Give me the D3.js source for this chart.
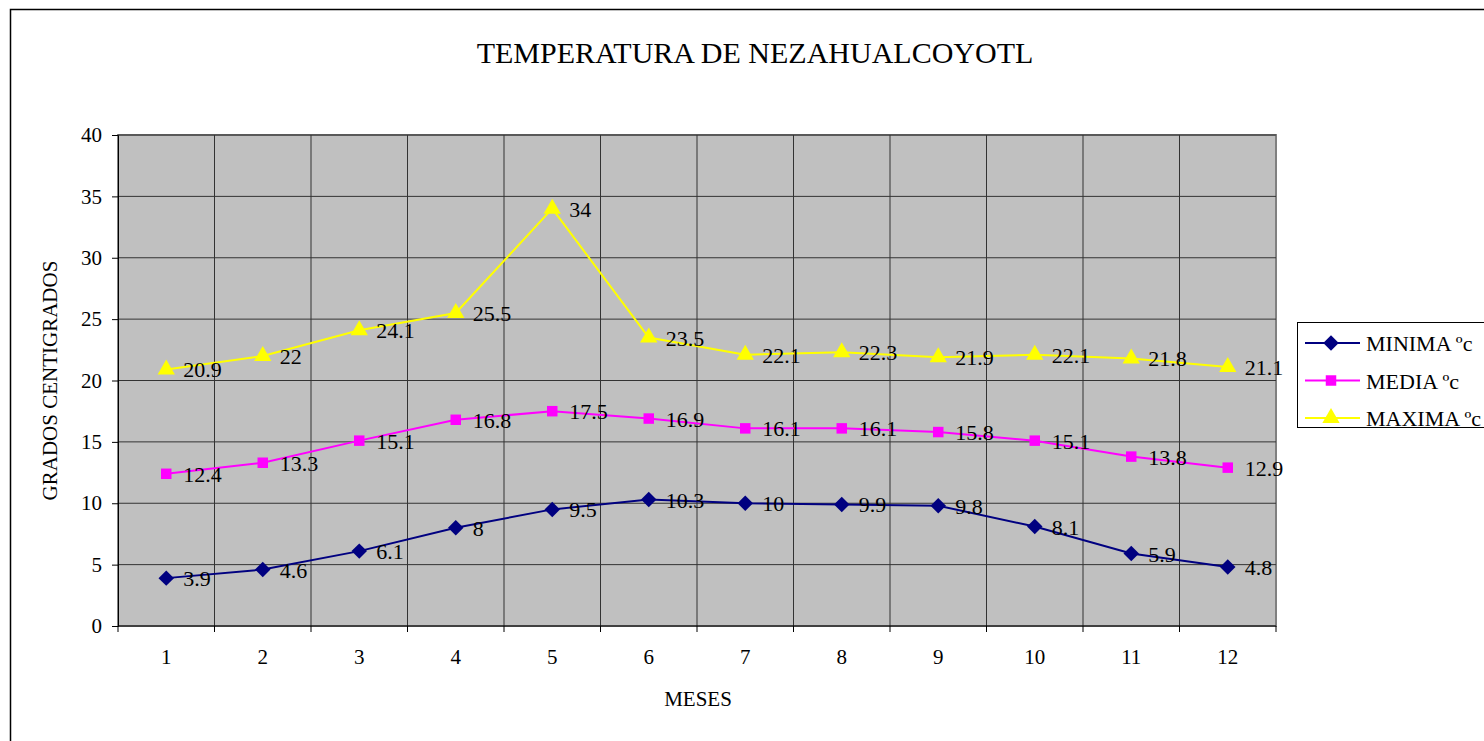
<!DOCTYPE html>
<html>
<head>
<meta charset="utf-8">
<script src="https://cdn.jsdelivr.net/npm/d3@7"></script>
<style>
  body { margin: 0; background: #fff; }
  text { font-family: "Liberation Serif", "Times New Roman", serif; fill: #000; }
</style>
</head>
<body>
<div id="chart"></div>
<script>
const months = [1, 2, 3, 4, 5, 6, 7, 8, 9, 10, 11, 12]
const minima = [3.9, 4.6, 6.1, 8, 9.5, 10.3, 10, 9.9, 9.8, 8.1, 5.9, 4.8]
const media = [12.4, 13.3, 15.1, 16.8, 17.5, 16.9, 16.1, 16.1, 15.8, 15.1, 13.8, 12.9]
const maxima = [20.9, 22, 24.1, 25.5, 34, 23.5, 22.1, 22.3, 21.9, 22.1, 21.8, 21.1]
const seriesNames = ['MINIMA ºc', 'MEDIA ºc', 'MAXIMA ºc']
const yTicks = [0, 5, 10, 15, 20, 25, 30, 35, 40]

const W = 1484, H = 741
const plot = { left: 118, top: 135, right: 1276, bottom: 626 }

const svg = d3.select('#chart').append('svg')
  .attr('width', W).attr('height', H)

// outer chart border
svg.append('rect')
  .attr('x', 10.5).attr('y', 9.5)
  .attr('width', W).attr('height', H)
  .attr('fill', 'none').attr('stroke', '#000').attr('stroke-width', 1.5)

const x = d3.scaleBand().domain(months).range([plot.left, plot.right])
const y = d3.scaleLinear().domain([0, 40]).range([plot.bottom, plot.top])
const cx = d => x(d) + x.bandwidth() / 2

svg.append('rect')
  .attr('x', plot.left).attr('y', plot.top)
  .attr('width', plot.right - plot.left).attr('height', plot.bottom - plot.top)
  .attr('fill', '#c0c0c0').attr('stroke', '#808080').attr('stroke-width', 2)

// horizontal gridlines
svg.append('g').selectAll('line')
  .data(yTicks.slice(1))
  .enter().append('line')
  .attr('x1', plot.left).attr('x2', plot.right)
  .attr('y1', d => y(d)).attr('y2', d => y(d))
  .attr('stroke', '#333').attr('stroke-width', 1)

// vertical gridlines between categories
svg.append('g').selectAll('line')
  .data(months.slice(1))
  .enter().append('line')
  .attr('x1', d => x(d)).attr('x2', d => x(d))
  .attr('y1', plot.top).attr('y2', plot.bottom)
  .attr('stroke', '#333').attr('stroke-width', 1)

// y axis
const yAxis = svg.append('g')
  .attr('transform', 'translate(' + plot.left + ',0)')
  .call(d3.axisLeft(y).tickValues(yTicks).tickSize(6).tickPadding(10))
yAxis.selectAll('text').style('font-size', '21px').style('font-family', '"Liberation Serif", serif')
yAxis.selectAll('line').attr('stroke', '#000')
yAxis.select('.domain').attr('stroke', '#000')

// x axis with ticks on category boundaries
const xg = svg.append('g').attr('transform', 'translate(0,' + plot.bottom + ')')
xg.append('line').attr('x1', plot.left).attr('x2', plot.right).attr('stroke', '#000')
xg.selectAll('line.tick')
  .data(months.concat([13]))
  .enter().append('line')
  .attr('class', 'tick')
  .attr('x1', d => d === 13 ? plot.right : x(d))
  .attr('x2', d => d === 13 ? plot.right : x(d))
  .attr('y1', 0).attr('y2', 6)
  .attr('stroke', '#000')
xg.selectAll('text')
  .data(months)
  .enter().append('text')
  .attr('x', cx).attr('y', 38)
  .attr('text-anchor', 'middle')
  .style('font-size', '21px')
  .text(d => d)

const series = [
  { name: seriesNames[0], values: minima, color: '#000080', symbol: d3.symbolSquare, size: 120, rot: 45 },
  { name: seriesNames[1], values: media, color: '#ff00ff', symbol: d3.symbolSquare, size: 110, rot: 0 },
  { name: seriesNames[2], values: maxima, color: '#ffff00', symbol: d3.symbolTriangle, size: 130, rot: 0 }
]

const line = d3.line().x((d, i) => cx(months[i])).y(d => y(d))

series.forEach(s => {
  const g = svg.append('g')
  g.append('path')
    .attr('d', line(s.values))
    .attr('fill', 'none').attr('stroke', s.color).attr('stroke-width', 2)
  g.selectAll('path.m')
    .data(s.values)
    .enter().append('path')
    .attr('class', 'm')
    .attr('transform', (d, i) => 'translate(' + cx(months[i]) + ',' + y(d) + ') rotate(' + s.rot + ')')
    .attr('d', d3.symbol().type(s.symbol).size(s.size))
    .attr('fill', s.color)
  g.selectAll('text')
    .data(s.values)
    .enter().append('text')
    .attr('x', (d, i) => cx(months[i]) + 17)
    .attr('y', d => y(d) + 8)
    .style('font-size', '22px')
    .text(d => d)
})

// titles
svg.append('text')
  .attr('x', 755).attr('y', 63)
  .attr('text-anchor', 'middle')
  .style('font-size', '30px')
  .text('TEMPERATURA DE NEZAHUALCOYOTL')

svg.append('text')
  .attr('x', 698).attr('y', 706)
  .attr('text-anchor', 'middle')
  .style('font-size', '21px')
  .text('MESES')

svg.append('text')
  .attr('transform', 'translate(57,' + (plot.top + plot.bottom) / 2 + ') rotate(-90)')
  .attr('text-anchor', 'middle')
  .style('font-size', '21px')
  .text('GRADOS CENTIGRADOS')

// legend
const legend = svg.append('g')
legend.append('rect')
  .attr('x', 1297.5).attr('y', 322.5)
  .attr('width', 200).attr('height', 105)
  .attr('fill', '#fff').attr('stroke', '#000').attr('stroke-width', 1)
series.forEach((s, i) => {
  const ly = 343 + i * 37.5
  legend.append('line')
    .attr('x1', 1305).attr('x2', 1360)
    .attr('y1', ly).attr('y2', ly)
    .attr('stroke', s.color).attr('stroke-width', 2)
  legend.append('path')
    .attr('transform', 'translate(1331,' + ly + ') rotate(' + s.rot + ')')
    .attr('d', d3.symbol().type(s.symbol).size(s.size))
    .attr('fill', s.color)
  legend.append('text')
    .attr('x', 1366).attr('y', ly + 8)
    .style('font-size', '22px')
    .text(s.name)
})
</script>
</body>
</html>
